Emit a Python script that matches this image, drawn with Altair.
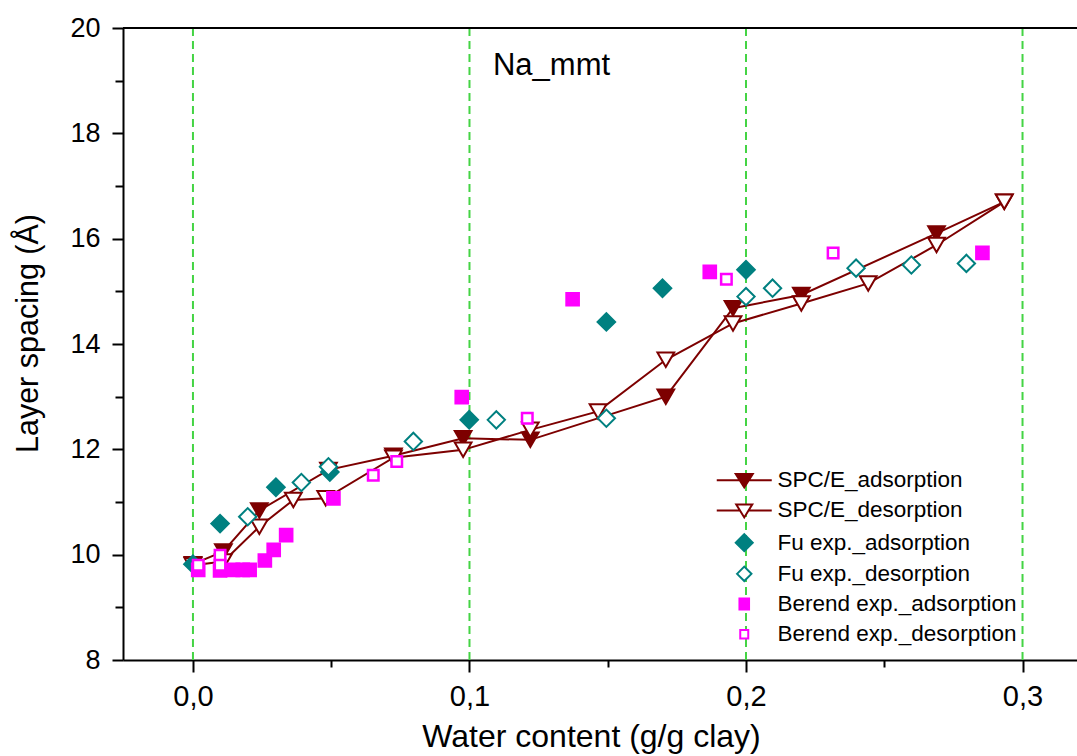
import altair as alt
import pandas as pd

FONT = "Liberation Sans"
DARKRED = "#7d0000"
TEAL = "#008080"
MAGENTA = "#ff00ff"
GREEN = "#44d444"

# ---- data ----
spce_ads_x = [0.0, 0.011, 0.024, 0.049, 0.0725, 0.0977, 0.122, 0.171, 0.1953, 0.220, 0.2689, 0.2934]
spce_ads_y = [9.82, 10.06, 10.84, 11.61, 11.88, 12.21, 12.18, 13.00, 14.68, 14.93, 16.10, 16.70]
spce_des_x = [0.2934, 0.2689, 0.2442, 0.220, 0.1953, 0.171, 0.1465, 0.122, 0.0977, 0.0725,
              0.048, 0.0363, 0.024, 0.011, 0.0]
spce_des_y = [16.70, 15.88, 15.15, 14.77, 14.39, 13.70, 12.72, 12.37, 11.99, 11.84,
              11.07, 11.04, 10.53, 9.87, 9.80]
fu_ads_x = [0.0, 0.0098, 0.030, 0.0495, 0.0999, 0.1495, 0.1698, 0.2]
fu_ads_y = [9.82, 10.59, 11.28, 11.57, 12.56, 14.42, 15.06, 15.41]
fu_des_x = [0.0198, 0.0392, 0.049, 0.0797, 0.1097, 0.1495, 0.2, 0.2096, 0.2398, 0.2598, 0.2797]
fu_des_y = [10.72, 11.37, 11.67, 12.15, 12.56, 12.59, 14.90, 15.06, 15.44, 15.50, 15.53]
ber_ads_x = [0.0019, 0.0098, 0.0145, 0.018, 0.0205, 0.026, 0.0292, 0.0337, 0.0508, 0.0972,
             0.1373, 0.1869, 0.2855]
ber_ads_y = [9.71, 9.70, 9.71, 9.71, 9.71, 9.89, 10.09, 10.37, 11.07, 12.99, 14.85, 15.37, 15.73]
ber_des_x = [0.0019, 0.0098, 0.0098, 0.0652, 0.0737, 0.1209, 0.1929, 0.2315]
ber_des_y = [9.80, 9.99, 9.80, 11.51, 11.77, 12.59, 15.23, 15.73]

guide_x = [0.0, 0.1, 0.2, 0.3]
x_ticks = [0.0, 0.05, 0.1, 0.15, 0.2, 0.25, 0.3]
y_ticks = list(range(8, 21))
annot_text = ["Na_mmt"]
annot_x = [0.1085]
annot_y = [19.11]

legend_labels = ["SPC/E_adsorption", "SPC/E_desorption", "Fu exp._adsorption",
                 "Fu exp._desorption", "Berend exp._adsorption", "Berend exp._desorption"]
legend_fills = [DARKRED, "white", TEAL, "white", MAGENTA, "white"]
legend_strokes = [DARKRED, DARKRED, TEAL, TEAL, MAGENTA, MAGENTA]
EXT = "M-2.75,0M2.75,0"
legend_shapes = [
    EXT + "M-2.75,0H2.75M-0.85,-0.62L0.85,-0.62L0,0.72Z",
    EXT + "M-2.75,0H-0.45M0.45,0H2.75M-0.8,-0.6L0.8,-0.6L0,0.7Z",
    EXT + "M-0.85,0L0,-0.85L0.85,0L0,0.85Z",
    EXT + "M-0.72,0L0,-0.72L0.72,0L0,0.72Z",
    EXT + "M-0.48,-0.55H0.48V0.55H-0.48Z",
    EXT + "M-0.4,-0.42H0.4V0.42H-0.4Z",
]

# ---- scales & axes ----
x_scale = alt.Scale(domain=[-0.0253, 0.3197], nice=False, zero=False)
y_scale = alt.Scale(domain=[8, 20], nice=False, zero=False)

x_major = "abs(datum.value*10 - round(datum.value*10)) < 0.001"
x_axis = alt.Axis(
    values=x_ticks,
    labelExpr=f"{x_major} ? replace(format(datum.value, '.1f'), '.', ',') : ''",
    tickSize={"condition": {"test": x_major, "value": 12}, "value": 7},
    labelPadding=10, labelFontSize=29, labelFont=FONT, labelColor="black",
    labelOverlap=False, labelFlush=False,
    title="Water content (g/g clay)", titleFontSize=32, titleFont=FONT,
    titleFontWeight="normal", titleColor="black", titleBaseline="alphabetic",
    titleX=468, titleY=86, titleAnchor="middle",
    domainColor="black", domainWidth=2, tickColor="black", tickWidth=2, grid=False,
)
y_major = "datum.value % 2 == 0"
y_axis = alt.Axis(
    values=y_ticks,
    labelExpr=f"{y_major} ? format(datum.value, 'd') : ''",
    tickSize={"condition": {"test": y_major, "value": 11}, "value": 8},
    labelPadding=12, labelFontSize=27, labelFont=FONT, labelColor="black",
    labelOverlap=False, labelFlush=False,
    title="Layer spacing (Å)", titleFontSize=30.5, titleFont=FONT,
    titleFontWeight="normal", titleColor="black", titleBaseline="alphabetic",
    titleAngle=270, titleX=-86, titleY=305, titleAnchor="middle", titleAlign="center",
    domainColor="black", domainWidth=2, tickColor="black", tickWidth=2, grid=False,
)


def X(f="x"):
    return alt.X(f"{f}:Q", scale=x_scale, axis=x_axis)


def Y(f="y"):
    return alt.Y(f"{f}:Q", scale=y_scale, axis=y_axis)


def df(xs, ys):
    return pd.DataFrame({"x": xs, "y": ys, "i": list(range(len(xs)))})


guides = alt.Chart(pd.DataFrame({"x": guide_x})).mark_rule(
    color=GREEN, strokeDash=[8, 5], strokeWidth=2).encode(x=X())
top = alt.Chart(pd.DataFrame({"y": [20]})).mark_rule(color="black", strokeWidth=2).encode(y=Y())

ads_line = alt.Chart(df(spce_ads_x, spce_ads_y)).mark_line(color=DARKRED, strokeWidth=2).encode(
    x=X(), y=Y(), order="i:Q")
des_line = alt.Chart(df(spce_des_x, spce_des_y)).mark_line(color=DARKRED, strokeWidth=2).encode(
    x=X(), y=Y(), order="i:Q")
ads_pts = alt.Chart(df(spce_ads_x, spce_ads_y)).mark_point(
    shape="triangle-down", filled=True, fill=DARKRED, stroke=DARKRED, size=280, opacity=1).encode(x=X(), y=Y())
des_pts = alt.Chart(df(spce_des_x, spce_des_y)).mark_point(
    shape="triangle-down", fill="white", stroke=DARKRED, strokeWidth=2, size=280, opacity=1).encode(x=X(), y=Y())
fu_a = alt.Chart(df(fu_ads_x, fu_ads_y)).mark_point(
    shape="diamond", filled=True, fill=TEAL, stroke=TEAL, size=310, opacity=1).encode(x=X(), y=Y())
fu_d = alt.Chart(df(fu_des_x, fu_des_y)).mark_point(
    shape="diamond", fill="white", stroke=TEAL, strokeWidth=2, size=300, opacity=1).encode(x=X(), y=Y())
be_a = alt.Chart(df(ber_ads_x, ber_ads_y)).mark_point(
    shape="square", filled=True, fill=MAGENTA, stroke=MAGENTA, size=160, opacity=1).encode(x=X(), y=Y())
be_d = alt.Chart(df(ber_des_x, ber_des_y)).mark_point(
    shape="square", fill="white", stroke=MAGENTA, strokeWidth=2.5, size=110, opacity=1).encode(x=X(), y=Y())

annot = alt.Chart(pd.DataFrame({"x": annot_x, "y": annot_y, "t": annot_text})).mark_text(
    align="left", baseline="alphabetic", fontSize=31, font=FONT, color="black").encode(
    x=X(), y=Y(), text="t:N")

leg = alt.Legend(
    orient="none", legendX=610, legendY=441, title=None,
    labelFontSize=22.5, labelFont=FONT, labelColor="black", labelLimit=0,
    symbolSize=400, symbolStrokeWidth=2, symbolOpacity=1,
    rowPadding=7.2, labelOffset=22, padding=0,
)
legend_layer = alt.Chart(pd.DataFrame({"series": legend_labels})).mark_point(opacity=0).encode(
    shape=alt.Shape("series:N", scale=alt.Scale(domain=legend_labels, range=legend_shapes), legend=leg),
    fill=alt.Fill("series:N", scale=alt.Scale(domain=legend_labels, range=legend_fills), legend=leg),
    stroke=alt.Stroke("series:N", scale=alt.Scale(domain=legend_labels, range=legend_strokes), legend=leg),
)

chart = alt.layer(
    guides, top, ads_line, des_line, ads_pts, des_pts, fu_a, fu_d, be_a, be_d, annot, legend_layer
).properties(
    width=954, height=632,
    autosize=alt.AutoSizeParams(type="none"),
    padding={"left": 123, "top": 28, "right": 0, "bottom": 96},
    background="white",
).configure_view(stroke=None)

chart.save("out.html", embed_options={"renderer": "svg", "actions": False})
